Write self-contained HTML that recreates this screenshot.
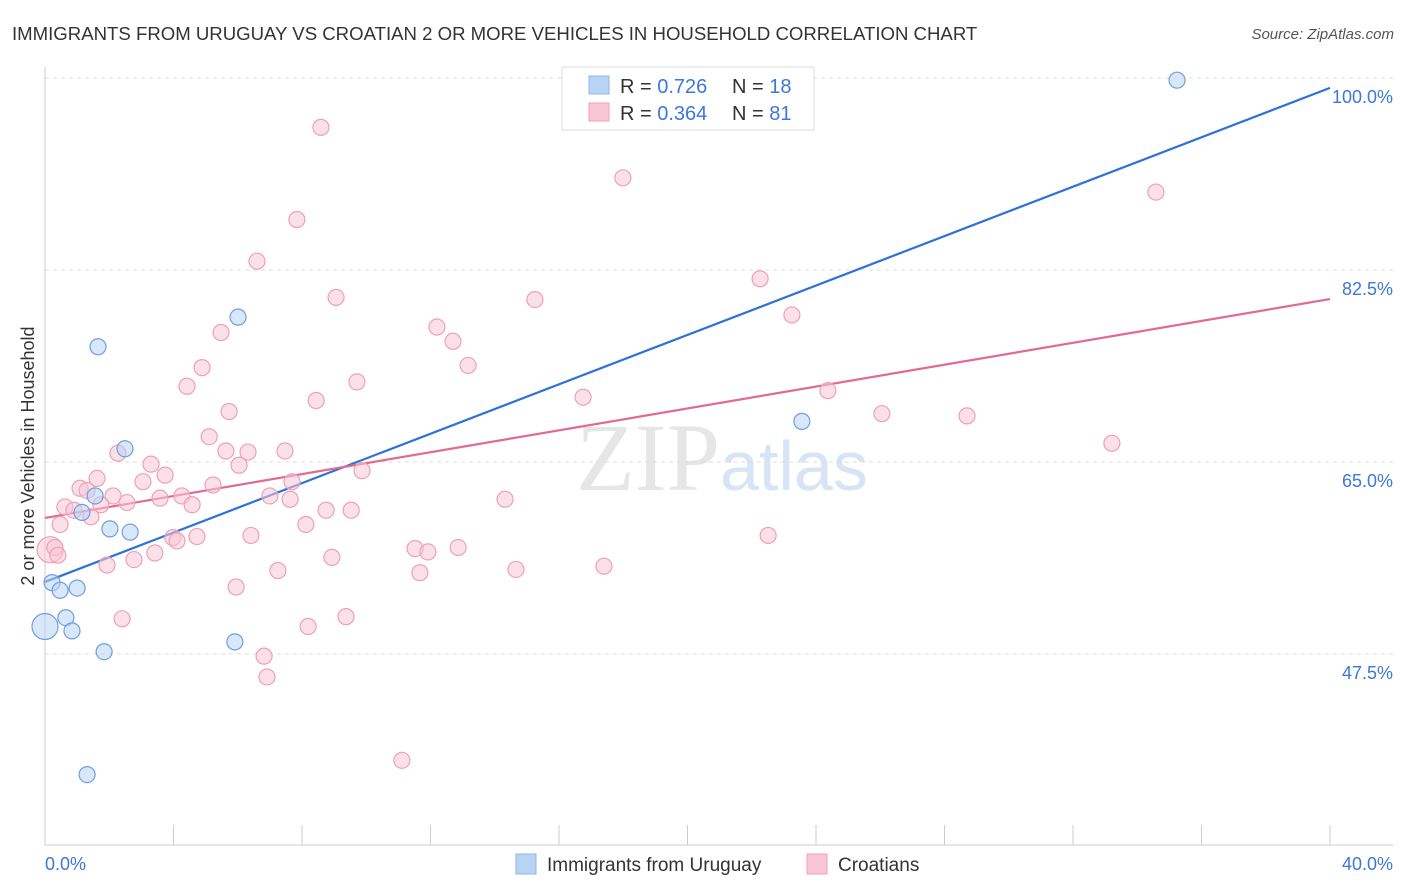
<!DOCTYPE html>
<html><head><meta charset="utf-8"><style>
body{margin:0;background:#fff;font-family:"Liberation Sans",sans-serif}
svg{display:block}
</style></head><body>
<svg id="chart" width="1406" height="892">
<text x="12" y="40" font-size="18.6" fill="#333">IMMIGRANTS FROM URUGUAY VS CROATIAN 2 OR MORE VEHICLES IN HOUSEHOLD CORRELATION CHART</text>
<text x="1394" y="39" font-size="15" fill="#555" font-style="italic" text-anchor="end">Source: ZipAtlas.com</text>
<text x="720" y="490" font-size="96" fill="#e6e6e6" text-anchor="end" font-family="Liberation Serif,serif">ZIP</text>
<text x="720" y="490" font-size="70" fill="#d6e4f5">atlas</text>
<g id="grid"></g><g id="axes"></g><g id="lines"></g><g id="pts"></g>
<text transform="translate(34,456) rotate(-90)" font-size="18" fill="#333" text-anchor="middle">2 or more Vehicles in Household</text>
<g>
<rect x="562" y="67" width="252" height="63" fill="#fff" stroke="#ddd"/>
<rect x="589" y="76" width="20" height="18" fill="#b8d4f5" stroke="#8fb5e5"/>
<rect x="589" y="103" width="20" height="18" fill="#f9c6d5" stroke="#f0a0b8"/>
<text x="620" y="93" font-size="20" fill="#333">R = <tspan fill="#3b78d8">0.726</tspan></text>
<text x="732" y="93" font-size="20" fill="#333">N = <tspan fill="#3b78d8">18</tspan></text>
<text x="620" y="120" font-size="20" fill="#333">R = <tspan fill="#3b78d8">0.364</tspan></text>
<text x="732" y="120" font-size="20" fill="#333">N = <tspan fill="#3b78d8">81</tspan></text>
</g>
<g>
<rect x="516" y="854" width="20" height="20" fill="#b8d4f5" stroke="#8fb5e5"/>
<text x="547" y="871" font-size="19" fill="#333">Immigrants from Uruguay</text>
<rect x="807" y="854" width="20" height="20" fill="#f9c6d5" stroke="#f0a0b8"/>
<text x="838" y="871" font-size="19" fill="#333">Croatians</text>
</g>
</svg>
<script>
const yTicks=[100,82.5,65,47.5];
const yTickLabels=["100.0%","82.5%","65.0%","47.5%"];
const xTickLabels=["0.0%","40.0%"];
const blueX=[35.24,6.01,1.65,2.49,23.56,1.56,1.15,2.02,2.65,0.22,0.47,1.00,0.65,0.0,0.84,1.84,5.91,1.31];
const blueY=[99.8,78.2,75.5,66.2,68.7,61.9,60.4,58.9,58.6,54.0,53.3,53.5,50.8,50.0,49.6,47.7,48.6,36.5];
const pinkX=[8.59,17.99,34.58,7.84,6.60,22.26,9.06,15.25,23.25,5.48,12.20,12.70,13.17,4.89,4.42,9.71,24.37,16.75,8.44,5.73,26.05,28.70,5.11,33.21,2.27,6.32,7.47,5.63,3.30,6.04,3.74,1.62,9.87,3.05,5.23,7.69,1.09,1.31,2.12,4.26,3.58,2.55,7.00,7.63,14.32,0.62,0.90,1.74,4.58,8.75,9.53,1.43,0.47,8.12,6.41,22.51,3.98,4.73,4.11,3.42,0.16,12.86,11.52,11.92,8.93,2.77,1.93,17.40,14.66,7.25,11.67,5.95,9.37,2.40,8.19,6.82,6.91,11.11,0.31,0.40];
const pinkY=[95.5,90.9,89.6,87.1,83.3,81.7,80.0,79.8,78.4,76.8,77.3,76.0,73.8,73.6,71.9,72.3,71.5,70.9,70.6,69.6,69.4,69.2,67.3,66.7,65.8,65.9,66.0,66.0,64.8,64.7,63.8,63.5,64.2,63.2,62.9,63.2,62.6,62.4,61.9,61.9,61.7,61.3,61.9,61.6,61.6,60.9,60.6,61.1,61.1,60.6,60.6,60.0,59.3,59.3,58.3,58.3,58.1,58.2,57.8,56.7,57.0,57.2,57.1,56.8,56.3,56.1,55.6,55.5,55.2,55.1,54.9,53.6,50.9,50.7,50.0,47.3,45.4,37.8,57.2,56.5];
const blueBig=[13];
const pinkBig=[60];
const blueFit=[54.06,99.1];
const pinkFit=[59.9,79.85];
const NS="http://www.w3.org/2000/svg";
const X=v=>45+v*32.125, Y=v=>78+(100-v)*10.97;
function mk(t,a,p){const e=document.createElementNS(NS,t);for(const k in a)e.setAttribute(k,a[k]);p.appendChild(e);return e;}
const g=document.getElementById('grid');
yTicks.forEach((t,i)=>{
 const l=mk('line',{x1:45,x2:1393,y1:Y(t),y2:Y(t),stroke:'#ddd','stroke-dasharray':'4,4'},g);
 
 
 const tx=mk('text',{x:1393,y:Y(t)+25,'font-size':18,fill:'#3b78d8','text-anchor':'end'},g);
 tx.textContent=yTickLabels[i];
 
 
});
const ax=document.getElementById('axes');
mk('line',{x1:45,x2:45,y1:67,y2:845,stroke:'#ccc'},ax);
mk('line',{x1:45,x2:1393,y1:845,y2:845,stroke:'#ccc'},ax);
for(let i=0;i<=10;i++){mk('line',{x1:X(i*4),x2:X(i*4),y1:825,y2:845,stroke:'#ccc'},ax);}
[[0,'start'],[40,'end']].forEach((d,i)=>{
 const t=mk('text',{x:d[0]==0?45:1393,y:870,'font-size':18,fill:'#3b78d8','text-anchor':d[1]},ax);
 t.textContent=xTickLabels[i];
 
 
});
const pg=document.getElementById('pts');
function pts(xs,ys,big,fill,stroke,name){
 xs.forEach((x,i)=>{
  const r=big.includes(i)?13:8;
  const c=mk('circle',{cx:X(x),cy:Y(ys[i]),r:r,fill:fill,'fill-opacity':0.55,stroke:stroke,'stroke-width':1.2},pg);
  
  
 });
}
pts(pinkX,pinkY,pinkBig,'#f9c6d5','#eda0b8','croatians-point');
pts(blueX,blueY,blueBig,'#b8d4f5','#6f9fdc','uruguay-point');
const lg=document.getElementById('lines');
const bl=mk('line',{x1:X(0),y1:Y(blueFit[0]),x2:X(40),y2:Y(blueFit[1]),stroke:'#2d72d9','stroke-width':2.2},lg);


const pl=mk('line',{x1:X(0),y1:Y(pinkFit[0]),x2:X(40),y2:Y(pinkFit[1]),stroke:'#e5698f','stroke-width':2.2},lg);


</script>
</body></html>
